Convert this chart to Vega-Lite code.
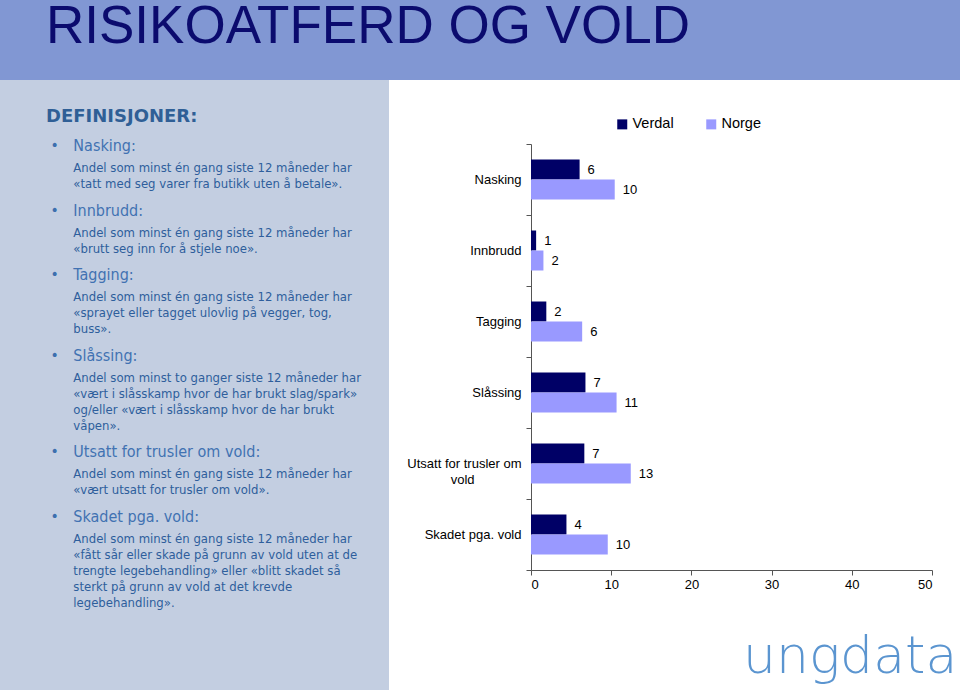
{
  "$schema": "https://vega.github.io/schema/vega-lite/v6.json",
  "background": "white",
  "padding": 0,
  "bounds": "flush",
  "spacing": 0,
  "config": {"view": {"stroke": null}, "font": "Liberation Sans"},
  "resolve": {"scale": {"yOffset": "independent"}},
  "vconcat": [
    {
      "width": 960,
      "height": 80,
      "view": {"fill": "#8197D3", "stroke": null},
      "data": {"values": [{"tittel": "RISIKOATFERD OG VOLD"}]},
      "mark": {"type": "text", "align": "left", "baseline": "alphabetic", "dx": -434, "dy": 2.5, "fontSize": 53, "font": "Liberation Sans", "color": "#0B0B6E"},
      "encoding": {"text": {"field": "tittel"}}
    },
    {
      "resolve": {"scale": {"yOffset": "independent"}},
      "hconcat": [
        {
          "width": 389,
          "height": 610,
          "view": {"fill": "#C3CEE1", "stroke": null},
          "data": {"values": [
            {"rad": 0, "seksjon": 0, "type": "t", "tekst": "DEFINISJONER:"},
            {"rad": 1, "seksjon": 1, "type": "h", "tekst": "Nasking:"},
            {"rad": 2, "seksjon": 1, "type": "b", "tekst": "Andel som minst én gang siste 12 måneder har"},
            {"rad": 3, "seksjon": 1, "type": "b", "tekst": "«tatt med seg varer fra butikk uten å betale»."},
            {"rad": 4, "seksjon": 2, "type": "h", "tekst": "Innbrudd:"},
            {"rad": 5, "seksjon": 2, "type": "b", "tekst": "Andel som minst én gang siste 12 måneder har"},
            {"rad": 6, "seksjon": 2, "type": "b", "tekst": "«brutt seg inn for å stjele noe»."},
            {"rad": 7, "seksjon": 3, "type": "h", "tekst": "Tagging:"},
            {"rad": 8, "seksjon": 3, "type": "b", "tekst": "Andel som minst én gang siste 12 måneder har"},
            {"rad": 9, "seksjon": 3, "type": "b", "tekst": "«sprayet eller tagget ulovlig på vegger, tog,"},
            {"rad": 10, "seksjon": 3, "type": "b", "tekst": "buss»."},
            {"rad": 11, "seksjon": 4, "type": "h", "tekst": "Slåssing:"},
            {"rad": 12, "seksjon": 4, "type": "b", "tekst": "Andel som minst to ganger siste 12 måneder har"},
            {"rad": 13, "seksjon": 4, "type": "b", "tekst": "«vært i slåsskamp hvor de har brukt slag/spark»"},
            {"rad": 14, "seksjon": 4, "type": "b", "tekst": "og/eller «vært i slåsskamp hvor de har brukt"},
            {"rad": 15, "seksjon": 4, "type": "b", "tekst": "våpen»."},
            {"rad": 16, "seksjon": 5, "type": "h", "tekst": "Utsatt for trusler om vold:"},
            {"rad": 17, "seksjon": 5, "type": "b", "tekst": "Andel som minst én gang siste 12 måneder har"},
            {"rad": 18, "seksjon": 5, "type": "b", "tekst": "«vært utsatt for trusler om vold»."},
            {"rad": 19, "seksjon": 6, "type": "h", "tekst": "Skadet pga. vold:"},
            {"rad": 20, "seksjon": 6, "type": "b", "tekst": "Andel som minst én gang siste 12 måneder har"},
            {"rad": 21, "seksjon": 6, "type": "b", "tekst": "«fått sår eller skade på grunn av vold uten at de"},
            {"rad": 22, "seksjon": 6, "type": "b", "tekst": "trengte legebehandling» eller «blitt skadet så"},
            {"rad": 23, "seksjon": 6, "type": "b", "tekst": "sterkt på grunn av vold at det krevde"},
            {"rad": 24, "seksjon": 6, "type": "b", "tekst": "legebehandling»."}
          ]},
          "encoding": {
            "y": {"field": "rad", "type": "ordinal", "axis": null, "scale": {"type": "band", "paddingInner": 0, "paddingOuter": 0, "range": [39.4, 439.4]}},
            "yOffset": {"field": "seksjon", "type": "ordinal", "scale": {"type": "point", "range": [0, 99.6], "padding": 0}}
          },
          "layer": [
            {
              "transform": [{"filter": "datum.type == 't'"}],
              "mark": {"type": "text", "align": "left", "baseline": "middle", "dx": -148.5, "dy": -2, "fontSize": 18, "fontWeight": "bold", "font": "DejaVu Sans", "color": "#2F5F96"},
              "encoding": {"text": {"field": "tekst"}}
            },
            {
              "transform": [{"filter": "datum.type == 'h'"}],
              "mark": {"type": "text", "align": "left", "baseline": "middle", "dx": -144, "dy": -6, "fontSize": 14, "font": "DejaVu Sans", "color": "#3D6FAE", "text": "•"},
              "encoding": {}
            },
            {
              "transform": [{"filter": "datum.type == 'h'"}],
              "mark": {"type": "text", "align": "left", "baseline": "middle", "dx": -121.2, "dy": -6, "fontSize": 16, "font": "DejaVu Sans Condensed, Liberation Sans", "color": "#4172B2"},
              "encoding": {"text": {"field": "tekst"}}
            },
            {
              "transform": [{"filter": "datum.type == 'b'"}],
              "mark": {"type": "text", "align": "left", "baseline": "middle", "dx": -121.2, "fontSize": 13, "font": "DejaVu Sans Condensed, Liberation Sans", "color": "#2E5E9C"},
              "encoding": {"text": {"field": "tekst"}}
            }
          ]
        },
        {
          "resolve": {"scale": {"yOffset": "independent"}},
          "vconcat": [
            {
              "width": 401,
              "height": 64,
              "data": {"values": []},
              "mark": {"type": "point", "opacity": 0},
              "encoding": {}
            },
            {
              "width": 401,
              "height": 426,
              "data": {"values": [
                {"kategori": "Nasking", "serie": "Verdal", "verdi": 6.06, "etikett": "6"},
                {"kategori": "Nasking", "serie": "Norge", "verdi": 10.44, "etikett": "10"},
                {"kategori": "Innbrudd", "serie": "Verdal", "verdi": 0.64, "etikett": "1"},
                {"kategori": "Innbrudd", "serie": "Norge", "verdi": 1.55, "etikett": "2"},
                {"kategori": "Tagging", "serie": "Verdal", "verdi": 1.91, "etikett": "2"},
                {"kategori": "Tagging", "serie": "Norge", "verdi": 6.38, "etikett": "6"},
                {"kategori": "Slåssing", "serie": "Verdal", "verdi": 6.79, "etikett": "7"},
                {"kategori": "Slåssing", "serie": "Norge", "verdi": 10.67, "etikett": "11"},
                {"kategori": "Utsatt for trusler om vold", "serie": "Verdal", "verdi": 6.65, "etikett": "7"},
                {"kategori": "Utsatt for trusler om vold", "serie": "Norge", "verdi": 12.44, "etikett": "13"},
                {"kategori": "Skadet pga. vold", "serie": "Verdal", "verdi": 4.42, "etikett": "4"},
                {"kategori": "Skadet pga. vold", "serie": "Norge", "verdi": 9.57, "etikett": "10"}
              ]},
              "encoding": {
                "y": {
                  "field": "kategori", "type": "nominal",
                  "sort": ["Nasking", "Innbrudd", "Tagging", "Slåssing", "Utsatt for trusler om vold", "Skadet pga. vold"],
                  "scale": {"paddingInner": 0, "paddingOuter": 0},
                  "axis": {
                    "title": null, "tickBand": "extent", "labelFontSize": 13, "labelColor": "black", "labelFont": "Liberation Sans",
                    "labelPadding": 5, "tickSize": 5, "domainColor": "#555555", "tickColor": "#555555", "labelLineHeight": 16,
                    "labelExpr": "datum.value == 'Utsatt for trusler om vold' ? ['Utsatt for trusler om', 'vold\u00a0\u00a0\u00a0\u00a0\u00a0\u00a0\u00a0\u00a0\u00a0\u00a0\u00a0\u00a0\u00a0\u200b'] : datum.value"
                  }
                },
                "yOffset": {"field": "serie", "type": "nominal", "sort": ["Verdal", "Norge"], "scale": {"paddingInner": 0, "paddingOuter": 0.775}},
                "x": {
                  "field": "verdi", "type": "quantitative",
                  "scale": {"domain": [0, 50], "nice": false},
                  "axis": {"title": null, "values": [0, 10, 20, 30, 40, 50], "grid": false, "labelFontSize": 13, "labelColor": "black", "labelFont": "Liberation Sans", "tickSize": 5, "labelPadding": 3, "domainColor": "#555555", "tickColor": "#555555"}
                }
              },
              "layer": [
                {
                  "mark": {"type": "bar"},
                  "encoding": {
                    "color": {
                      "field": "serie", "type": "nominal",
                      "scale": {"domain": ["Verdal", "Norge"], "range": ["#000066", "#9999FF"]},
                      "legend": {"title": null, "orient": "none", "direction": "horizontal", "legendX": 615, "legendY": 117, "symbolType": "square", "symbolSize": 100, "symbolStrokeWidth": 0, "labelFontSize": 14.5, "labelFont": "Liberation Sans", "labelColor": "black", "labelOffset": 3, "columnPadding": 30}
                    }
                  }
                },
                {
                  "mark": {"type": "text", "align": "left", "baseline": "middle", "dx": 8, "fontSize": 13, "font": "Liberation Sans", "color": "black"},
                  "encoding": {"text": {"field": "etikett"}}
                }
              ]
            },
            {
              "width": 429,
              "height": 120,
              "data": {"values": [{"logo": "ungdata"}]},
              "mark": {"type": "text", "align": "left", "baseline": "alphabetic", "dx": -2.5, "dy": 43, "fontSize": 52, "font": "DejaVu Sans", "fontWeight": 200, "color": "#5B95D0"},
              "encoding": {"text": {"field": "logo"}}
            }
          ],
          "spacing": 0,
          "bounds": "flush"
        }
      ],
      "spacing": 142,
      "bounds": "flush"
    }
  ]
}
